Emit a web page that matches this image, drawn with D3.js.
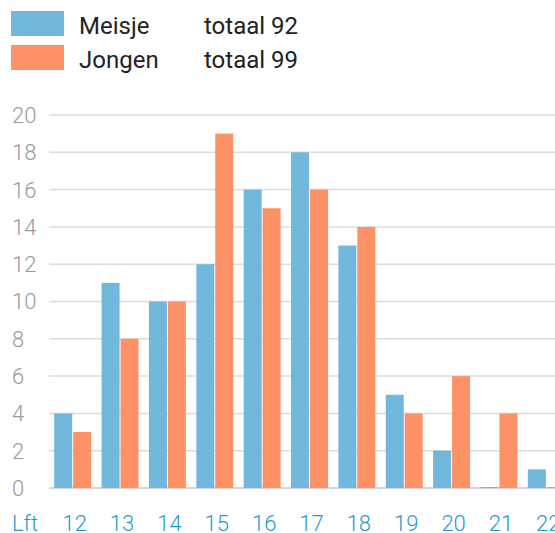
<!DOCTYPE html>
<html><head><meta charset="utf-8">
<script src="https://cdn.jsdelivr.net/npm/d3@7"></script>
<style>html,body{margin:0;padding:0;background:#fff;overflow:hidden}</style>
</head><body>
<svg id="c" width="555" height="533"></svg>
<script>
const categories = ["12","13","14","15","16","17","18","19","20","21","22"];
const meisje = [4,11,10,12,16,18,13,5,2,0,1];
const jongen = [3,8,10,19,15,16,14,4,6,4,0];
const seriesNames = ["Meisje","Jongen"];
const seriesTotals = ["totaal 92","totaal 99"];
const yTicks = [0,2,4,6,8,10,12,14,16,18,20];
const colors = ["#72b8dc","#ff9166"];

const svg = d3.select("#c");
const font = "Roboto, 'Liberation Sans', sans-serif";

const y = d3.scaleLinear().domain([0,20]).range([488,115]);
const x = d3.scaleBand().domain(categories).range([49,570]).paddingInner(0.22).paddingOuter(0.11);
const xs = d3.scaleBand().domain([0,1]).range([0,x.bandwidth()]).paddingInner(0.05);

// gridlines
svg.append("g").selectAll("line").data(yTicks).join("line")
  .attr("x1",49).attr("x2",555)
  .attr("y1",d=>y(d)).attr("y2",d=>y(d))
  .attr("stroke",d=>d===0?"#c8c8c8":"#dcdcdc").attr("stroke-width",1.5);

// y tick labels
svg.append("g").selectAll("text").data(yTicks).join("text")
  .attr("x",12).attr("y",d=>y(d)).attr("dy","0.36em")
  .attr("font-family",font).attr("font-weight",300).attr("font-size",22)
  .attr("fill","#9a9a9a").text(d=>d);

// bars
const data = categories.map((c,i)=>({c, v:[meisje[i], jongen[i]]}));
const g = svg.append("g").selectAll("g").data(data).join("g")
  .attr("transform",d=>`translate(${x(d.c)},0)`);
g.selectAll("rect").data(d=>d.v.map((v,k)=>({v,k}))).join("rect")
  .attr("x",d=>xs(d.k)).attr("width",xs.bandwidth())
  .attr("y",d=>y(d.v)-(d.v===0?1:0)).attr("height",d=>y(0)-y(d.v)+(d.v===0?1:0))
  .attr("fill",d=>colors[d.k]);

// x labels
svg.append("text").attr("x",12).attr("y",531)
  .attr("font-family",font).attr("font-weight",300).attr("font-size",22)
  .attr("fill","#1e9ad2").text("Lft");
svg.append("g").selectAll("text").data(categories).join("text")
  .attr("x",d=>x(d)+x.bandwidth()/2+2).attr("y",531).attr("text-anchor","middle")
  .attr("font-family",font).attr("font-weight",300).attr("font-size",22)
  .attr("fill","#1e9ad2").text(d=>d);

// legend
const lg = svg.append("g");
seriesNames.forEach((n,i)=>{
  const yy = 11 + i*34;
  lg.append("rect").attr("x",11).attr("y",yy).attr("width",53).attr("height",25).attr("fill",colors[i]);
  lg.append("text").attr("x",79).attr("y",yy+23).attr("font-family",font).attr("font-size",24)
    .attr("fill","#222").text(n);
  lg.append("text").attr("x",204).attr("y",yy+23).attr("font-family",font).attr("font-size",24)
    .attr("fill","#222").text(seriesTotals[i]);
});
</script>
</body></html>
